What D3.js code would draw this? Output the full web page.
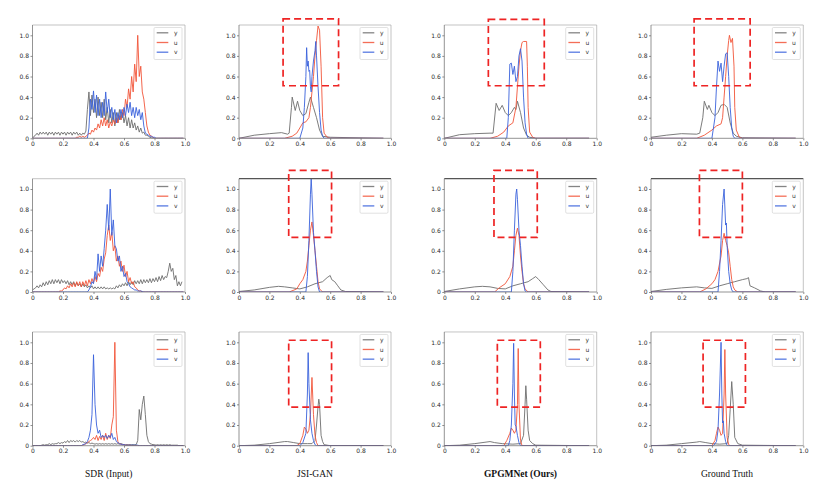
<!DOCTYPE html>
<html><head><meta charset="utf-8">
<script src="https://cdn.jsdelivr.net/npm/d3@7"></script>
<style>body{margin:0;background:#fff}svg{display:block}</style>
</head><body>
<svg id="c" width="830" height="488"></svg>
<script>
// ---------- data ----------
const xTicks = [0, 0.2, 0.4, 0.6, 0.8, 1.0];
const yTicks = [0, 0.2, 0.4, 0.6, 0.8, 1.0];
const captions = ["SDR (Input)", "JSI-GAN", "GPGMNet (Ours)", "Ground Truth"];
const seriesNames = ["y", "u", "v"];

// SDR input histograms: values on a 0.01 bin grid starting at 0
const sdr1_y = [0,0.02,0.03,0.05,0.03,0.06,0.04,0.06,0.04,0.06,0.03,0.06,0.04,0.06,0.03,0.06,0.04,0.06,0.03,0.06,0.04,0.06,0.03,0.06,0.04,0.06,0.03,0.06,0.04,0.06,0.03,0.05,0.03,0.05,0.04,0.07,0.28,0.45,0.22,0.42,0.25,0.38,0.2,0.4,0.22,0.35,0.2,0.38,0.18,0.3,0.15,0.28,0.15,0.25,0.12,0.25,0.15,0.28,0.18,0.25,0.15,0.22,0.12,0.2,0.1,0.18,0.1,0.15,0.08,0.12,0.06,0.1,0.05,0.06,0.03,0.03,0.02,0.01,0.005,0,0,0,0,0,0,0,0,0,0,0,0,0,0,0,0,0,0,0,0,0];
const sdr1_u = [0,0,0,0,0,0,0,0,0,0,0,0,0,0,0,0,0,0,0,0,0,0,0,0,0,0,0,0,0,0.01,0.01,0.02,0.01,0.02,0.01,0.02,0.03,0.05,0.04,0.08,0.06,0.1,0.08,0.14,0.1,0.18,0.12,0.2,0.12,0.18,0.1,0.16,0.12,0.18,0.14,0.2,0.15,0.22,0.18,0.28,0.22,0.38,0.3,0.48,0.38,0.6,0.45,0.72,0.55,1.0,0.6,0.7,0.45,0.38,0.25,0.12,0.06,0.03,0.02,0.01,0,0,0,0,0,0,0,0,0,0,0,0,0,0,0,0,0,0,0,0];
const sdr1_v = [0,0,0,0,0,0,0,0,0,0,0,0,0,0,0,0,0,0,0,0,0,0,0,0,0,0,0,0,0,0,0,0,0,0,0,0,0,0.1,0.38,0.28,0.46,0.25,0.42,0.22,0.38,0.2,0.35,0.22,0.45,0.25,0.38,0.2,0.3,0.18,0.28,0.15,0.25,0.18,0.28,0.2,0.3,0.22,0.33,0.25,0.35,0.22,0.3,0.2,0.3,0.22,0.28,0.18,0.25,0.12,0.05,0.04,0.03,0.02,0.02,0.01,0.01,0,0,0,0,0,0,0,0,0,0,0,0,0,0,0,0,0,0,0];

const sdr2_y = [0.02,0.03,0.04,0.06,0.04,0.07,0.05,0.09,0.06,0.1,0.07,0.11,0.08,0.12,0.08,0.12,0.09,0.12,0.08,0.12,0.09,0.11,0.08,0.11,0.07,0.1,0.07,0.1,0.06,0.09,0.06,0.08,0.05,0.08,0.05,0.07,0.04,0.06,0.04,0.06,0.03,0.05,0.03,0.05,0.03,0.05,0.03,0.05,0.03,0.04,0.03,0.04,0.03,0.04,0.03,0.06,0.04,0.07,0.05,0.08,0.06,0.09,0.06,0.1,0.07,0.1,0.07,0.11,0.08,0.11,0.08,0.12,0.08,0.12,0.09,0.12,0.09,0.13,0.09,0.13,0.1,0.14,0.1,0.15,0.11,0.16,0.12,0.15,0.14,0.2,0.28,0.2,0.23,0.12,0.16,0.06,0.1,0.06,0.1];
const sdr2_u = [0,0,0,0,0,0,0,0,0,0,0,0,0,0,0,0,0,0,0.01,0.01,0.02,0.04,0.03,0.06,0.04,0.08,0.05,0.09,0.05,0.1,0.06,0.1,0.05,0.1,0.06,0.11,0.06,0.12,0.08,0.13,0.09,0.15,0.1,0.18,0.15,0.24,0.2,0.32,0.38,0.55,0.65,0.5,0.58,0.4,0.45,0.3,0.35,0.25,0.3,0.2,0.26,0.15,0.2,0.1,0.14,0.08,0.1,0.05,0.04,0.02,0.01,0.01,0,0,0,0,0,0,0,0,0,0,0,0,0,0,0,0,0,0,0,0,0,0,0,0,0,0,0,0];
const sdr2_v = [0,0,0,0,0,0,0,0,0,0,0,0,0,0,0,0,0,0,0,0,0,0,0,0,0,0,0,0,0,0,0,0,0,0,0,0,0,0.02,0.05,0.1,0.08,0.2,0.12,0.37,0.2,0.35,0.25,0.42,0.6,0.85,0.6,1.0,0.55,0.7,0.45,0.42,0.3,0.35,0.2,0.25,0.15,0.18,0.1,0.08,0.05,0.04,0.03,0.02,0.02,0.01,0.01,0.01,0.005,0,0,0,0,0,0,0,0,0,0,0,0,0,0,0,0,0,0,0,0,0,0,0,0,0,0,0];

const sdr3_y = [0,0,0,0,0,0,0.005,0.01,0.005,0.01,0.01,0.02,0.01,0.02,0.015,0.02,0.02,0.03,0.02,0.03,0.025,0.04,0.03,0.05,0.03,0.05,0.04,0.05,0.035,0.05,0.04,0.05,0.035,0.04,0.03,0.035,0.025,0.03,0.02,0.025,0.02,0.015,0.02,0.015,0.02,0.015,0.02,0.015,0.02,0.015,0.02,0.015,0.02,0.015,0.02,0.015,0.02,0.015,0.02,0.015,0.01,0.01,0.01,0.01,0.01,0.01,0.01,0.01,0.01,0.05,0.35,0.25,0.4,0.48,0.3,0.1,0.04,0.02,0.015,0.01,0.01,0.005,0.01,0.005,0.01,0.005,0.01,0.005,0.01,0.005,0.01,0.005,0.005,0.005,0.005,0.005,0,0,0,0];
const sdr3_u = [0,0,0,0,0,0,0,0,0,0,0,0,0,0,0,0,0,0,0,0,0,0,0,0,0,0,0,0,0,0,0,0,0,0.005,0.01,0.02,0.03,0.04,0.05,0.06,0.08,0.06,0.1,0.05,0.09,0.06,0.1,0.05,0.12,0.06,0.1,0.07,0.2,0.28,1.0,0.15,0.04,0.02,0.015,0.01,0.01,0.005,0.005,0.005,0.005,0,0,0,0,0,0,0,0,0,0,0,0,0,0,0,0,0,0,0,0,0,0,0,0,0,0,0,0,0,0,0,0,0,0,0];
const sdr3_v = [0,0,0,0,0,0,0,0,0,0,0,0,0,0,0,0,0,0,0,0,0,0,0,0,0,0,0,0,0,0,0,0,0,0.01,0.015,0.02,0.04,0.08,0.15,0.3,0.88,0.4,0.2,0.12,0.15,0.08,0.1,0.08,0.1,0.07,0.1,0.08,0.12,0.06,0.08,0.04,0.03,0.02,0.015,0.01,0.01,0.005,0.005,0.005,0.005,0.005,0.005,0.005,0.005,0.005,0,0,0,0,0,0,0,0,0,0,0,0,0,0,0,0,0,0,0,0,0,0,0,0,0,0,0,0,0,0];

// Model outputs: [value, density] pairs
const jsi1_y = [[0,0],[0.1,0.03],[0.2,0.045],[0.28,0.055],[0.32,0.04],[0.33,0.05],[0.345,0.3],[0.35,0.4],[0.37,0.27],[0.385,0.36],[0.4,0.27],[0.42,0.22],[0.44,0.24],[0.46,0.35],[0.47,0.4],[0.49,0.3],[0.51,0.2],[0.53,0.08],[0.55,0.02],[0.6,0.01],[0.95,0]];
const jsi1_u = [[0,0],[0.3,0],[0.35,0.02],[0.38,0.05],[0.4,0.1],[0.42,0.15],[0.44,0.16],[0.46,0.2],[0.47,0.3],[0.48,0.45],[0.49,0.6],[0.5,0.8],[0.51,0.95],[0.52,1.09],[0.53,1.05],[0.54,0.7],[0.55,0.2],[0.56,0.05],[0.58,0.01],[0.6,0],[0.95,0]];
const jsi1_v = [[0,0],[0.4,0],[0.42,0.1],[0.43,0.3],[0.44,0.6],[0.445,0.88],[0.45,0.7],[0.455,0.75],[0.46,0.65],[0.465,0.66],[0.47,0.5],[0.475,0.45],[0.48,0.6],[0.49,0.75],[0.5,0.85],[0.505,0.94],[0.51,0.8],[0.52,0.5],[0.53,0.25],[0.54,0.08],[0.55,0.02],[0.56,0],[0.95,0]];

const gpgm1_y = [[0,0],[0.1,0.035],[0.2,0.045],[0.3,0.05],[0.32,0.05],[0.34,0.34],[0.36,0.27],[0.38,0.32],[0.4,0.25],[0.42,0.22],[0.44,0.25],[0.46,0.3],[0.47,0.28],[0.48,0.36],[0.5,0.25],[0.52,0.1],[0.54,0.03],[0.56,0.01],[0.6,0],[0.95,0]];
const gpgm1_u = [[0,0],[0.3,0],[0.35,0.02],[0.39,0.06],[0.42,0.12],[0.45,0.15],[0.47,0.3],[0.48,0.5],[0.49,0.7],[0.5,0.85],[0.51,0.93],[0.52,0.94],[0.54,0.94],[0.545,0.7],[0.55,0.3],[0.56,0.06],[0.58,0.01],[0.6,0],[0.95,0]];
const gpgm1_v = [[0,0],[0.41,0],[0.42,0.2],[0.43,0.72],[0.44,0.73],[0.45,0.62],[0.46,0.7],[0.47,0.55],[0.48,0.6],[0.49,0.8],[0.5,0.87],[0.51,0.75],[0.52,0.4],[0.53,0.15],[0.54,0.04],[0.55,0],[0.95,0]];

const gt1_y = [[0,0.01],[0.1,0.03],[0.2,0.045],[0.3,0.04],[0.32,0.05],[0.34,0.2],[0.35,0.36],[0.37,0.28],[0.38,0.32],[0.4,0.25],[0.42,0.22],[0.44,0.25],[0.46,0.32],[0.48,0.33],[0.5,0.3],[0.52,0.15],[0.54,0.05],[0.56,0.02],[0.6,0.005],[0.95,0]];
const gt1_u = [[0,0],[0.3,0],[0.35,0.03],[0.4,0.08],[0.43,0.12],[0.46,0.14],[0.47,0.2],[0.48,0.4],[0.49,0.6],[0.5,0.8],[0.51,0.95],[0.515,1.0],[0.525,0.93],[0.535,0.97],[0.545,0.7],[0.55,0.3],[0.56,0.08],[0.58,0.01],[0.6,0],[0.95,0]];
const gt1_v = [[0,0],[0.4,0],[0.42,0.2],[0.43,0.5],[0.44,0.75],[0.45,0.65],[0.46,0.73],[0.47,0.55],[0.48,0.7],[0.49,0.82],[0.5,0.83],[0.51,0.6],[0.52,0.3],[0.53,0.1],[0.54,0.02],[0.55,0],[0.95,0]];

const jsi2_y = [[0,0.005],[0.1,0.02],[0.2,0.045],[0.26,0.055],[0.3,0.05],[0.35,0.04],[0.4,0.03],[0.45,0.05],[0.5,0.08],[0.55,0.1],[0.58,0.14],[0.6,0.16],[0.61,0.12],[0.63,0.1],[0.65,0.06],[0.67,0.02],[0.7,0.005],[0.95,0]];
const jsi2_u = [[0,0],[0.33,0],[0.38,0.03],[0.4,0.08],[0.42,0.12],[0.44,0.2],[0.45,0.3],[0.46,0.45],[0.47,0.6],[0.48,0.68],[0.49,0.55],[0.5,0.4],[0.51,0.25],[0.52,0.1],[0.53,0.03],[0.55,0],[0.95,0]];
const jsi2_v = [[0,0],[0.44,0],[0.45,0.15],[0.46,0.5],[0.47,0.95],[0.475,1.1],[0.48,0.95],[0.49,0.58],[0.5,0.4],[0.51,0.2],[0.52,0.05],[0.53,0],[0.95,0]];

const gpgm2_y = [[0,0.005],[0.1,0.03],[0.2,0.05],[0.25,0.055],[0.3,0.05],[0.35,0.035],[0.4,0.03],[0.45,0.06],[0.5,0.08],[0.55,0.1],[0.58,0.13],[0.6,0.15],[0.62,0.12],[0.65,0.07],[0.68,0.02],[0.7,0.005],[0.95,0]];
const gpgm2_u = [[0,0],[0.33,0],[0.36,0.04],[0.4,0.08],[0.43,0.15],[0.45,0.25],[0.46,0.4],[0.47,0.55],[0.48,0.62],[0.49,0.55],[0.5,0.35],[0.51,0.2],[0.52,0.08],[0.53,0.03],[0.55,0],[0.95,0]];
const gpgm2_v = [[0,0],[0.44,0],[0.45,0.2],[0.46,0.6],[0.47,0.95],[0.475,1.0],[0.48,0.9],[0.49,0.6],[0.5,0.45],[0.51,0.25],[0.52,0.08],[0.53,0.01],[0.54,0],[0.95,0]];

const gt2_y = [[0,0.005],[0.1,0.025],[0.2,0.04],[0.3,0.05],[0.35,0.04],[0.4,0.035],[0.45,0.06],[0.5,0.08],[0.55,0.1],[0.6,0.12],[0.63,0.13],[0.64,0.14],[0.65,0.06],[0.68,0.04],[0.72,0.01],[0.75,0],[0.95,0]];
const gt2_u = [[0,0],[0.32,0],[0.36,0.03],[0.4,0.08],[0.42,0.12],[0.44,0.2],[0.46,0.35],[0.47,0.5],[0.48,0.57],[0.49,0.5],[0.5,0.45],[0.51,0.38],[0.52,0.25],[0.53,0.12],[0.54,0.05],[0.55,0.02],[0.57,0],[0.95,0]];
const gt2_v = [[0,0],[0.44,0],[0.45,0.2],[0.46,0.5],[0.47,0.85],[0.48,1.0],[0.49,0.65],[0.495,0.67],[0.5,0.45],[0.51,0.2],[0.52,0.08],[0.53,0.02],[0.54,0],[0.95,0]];

const jsi3_y = [[0,0],[0.1,0.005],[0.2,0.02],[0.3,0.04],[0.32,0.04],[0.36,0.03],[0.4,0.02],[0.45,0.02],[0.48,0.02],[0.5,0.05],[0.51,0.2],[0.52,0.38],[0.525,0.45],[0.53,0.4],[0.54,0.1],[0.55,0.04],[0.56,0.01],[0.6,0],[0.95,0]];
const jsi3_u = [[0,0],[0.38,0],[0.4,0.02],[0.42,0.1],[0.43,0.18],[0.44,0.16],[0.45,0.12],[0.46,0.15],[0.47,0.3],[0.48,0.66],[0.49,0.3],[0.5,0.1],[0.51,0.03],[0.52,0],[0.95,0]];
const jsi3_v = [[0,0],[0.4,0],[0.42,0.03],[0.44,0.12],[0.45,0.5],[0.455,0.9],[0.46,0.6],[0.47,0.25],[0.48,0.12],[0.49,0.05],[0.5,0.01],[0.51,0],[0.95,0]];

const gpgm3_y = [[0,0],[0.1,0.005],[0.2,0.02],[0.3,0.04],[0.33,0.03],[0.38,0.02],[0.45,0.015],[0.5,0.02],[0.52,0.1],[0.53,0.4],[0.535,0.58],[0.54,0.45],[0.55,0.15],[0.56,0.05],[0.58,0.02],[0.6,0.005],[0.95,0]];
const gpgm3_u = [[0,0],[0.39,0],[0.41,0.05],[0.43,0.12],[0.44,0.17],[0.45,0.15],[0.46,0.12],[0.47,0.15],[0.48,0.4],[0.485,0.94],[0.49,0.4],[0.5,0.05],[0.51,0],[0.95,0]];
const gpgm3_v = [[0,0],[0.42,0],[0.43,0.05],[0.44,0.2],[0.45,0.6],[0.455,0.99],[0.46,0.5],[0.465,0.2],[0.47,0.19],[0.48,0.1],[0.49,0.03],[0.5,0],[0.95,0]];

const gt3_y = [[0,0],[0.1,0.005],[0.2,0.02],[0.3,0.035],[0.32,0.04],[0.36,0.03],[0.4,0.02],[0.45,0.015],[0.5,0.02],[0.51,0.1],[0.52,0.35],[0.53,0.62],[0.54,0.4],[0.55,0.08],[0.57,0.02],[0.6,0.005],[0.95,0]];
const gt3_u = [[0,0],[0.4,0],[0.42,0.05],[0.43,0.12],[0.44,0.18],[0.45,0.15],[0.46,0.1],[0.47,0.12],[0.48,0.5],[0.485,0.93],[0.49,0.5],[0.5,0.08],[0.51,0.01],[0.52,0],[0.95,0]];
const gt3_v = [[0,0],[0.41,0],[0.43,0.04],[0.44,0.15],[0.45,0.5],[0.46,1.0],[0.465,0.5],[0.47,0.22],[0.475,0.24],[0.48,0.12],[0.49,0.04],[0.5,0],[0.95,0]];

// highlight boxes (data coords: x0, x1, y0, y1); null = none
const zoomBoxes = [
  [null, [0.29,0.655,0.51,1.16], [0.289,0.656,0.51,1.155], [0.283,0.651,0.51,1.16]],
  [null, [0.327,0.609,0.53,1.18], [0.326,0.61,0.53,1.18], [0.318,0.6,0.53,1.18]],
  [null, [0.327,0.609,0.374,1.02], [0.348,0.63,0.374,1.02], [0.342,0.62,0.374,1.02]]
];

// ---------- layout / style ----------
const colLeft = [32.5, 239, 444.3, 651];
const colRight = [185, 391, 596.7, 803.3];
const rowZero = [138.3, 292, 445.7];
const rowOne = [35.3, 189, 342.3];
const captionX = [108.7, 315, 520.5, 727];
const colors = {y: "#6e6e6e", u: "#f2553a", v: "#3a62dc"};

const binGrid = d3.range(100).map(i => i / 100);
const toPairs = vals => vals.map((v, i) => [binGrid[i], v]);

const panels = [
  [[toPairs(sdr1_y), toPairs(sdr1_u), toPairs(sdr1_v)], [jsi1_y, jsi1_u, jsi1_v], [gpgm1_y, gpgm1_u, gpgm1_v], [gt1_y, gt1_u, gt1_v]],
  [[toPairs(sdr2_y), toPairs(sdr2_u), toPairs(sdr2_v)], [jsi2_y, jsi2_u, jsi2_v], [gpgm2_y, gpgm2_u, gpgm2_v], [gt2_y, gt2_u, gt2_v]],
  [[toPairs(sdr3_y), toPairs(sdr3_u), toPairs(sdr3_v)], [jsi3_y, jsi3_u, jsi3_v], [gpgm3_y, gpgm3_u, gpgm3_v], [gt3_y, gt3_u, gt3_v]]
];

const svg = d3.select("#c");
const defs = svg.append("defs");
const fmt = d => d === 0 ? "0" : d3.format(".1f")(d);

panels.forEach((row, r) => {
  row.forEach((series, c) => {
    const x = d3.scaleLinear().domain([0, 1]).range([colLeft[c], colRight[c]]);
    const y = d3.scaleLinear().domain([0, 1]).range([rowZero[r], rowOne[r]]);
    const top = y(1.1), bottom = y(0), left = x(0), right = x(1);
    const g = svg.append("g");
    const cid = `clip${r}${c}`;
    defs.append("clipPath").attr("id", cid).append("rect")
      .attr("x", left).attr("y", top).attr("width", right - left).attr("height", bottom - top);

    // axes
    const ax = g.append("g").attr("transform", `translate(0,${bottom})`)
      .call(d3.axisBottom(x).tickValues(xTicks).tickFormat(fmt).tickSize(2).tickPadding(1.5));
    const ay = g.append("g").attr("transform", `translate(${left},0)`)
      .call(d3.axisLeft(y).tickValues(yTicks).tickFormat(fmt).tickSize(2).tickPadding(1.5));
    [ax, ay].forEach(a => {
      a.select(".domain").remove();
      a.selectAll("line").attr("stroke", "#444").attr("stroke-width", 0.6);
      a.selectAll("text").attr("fill", "#2a2a2a").style("font-family", "DejaVu Sans").style("font-size", "6px");
    });

    // lines
    const line = d3.line().x(d => x(d[0])).y(d => y(d[1]));
    const lg = g.append("g").attr("clip-path", `url(#${cid})`);
    series.forEach((s, k) => {
      lg.append("path").datum(s).attr("d", line)
        .attr("fill", "none").attr("stroke", colors[seriesNames[k]])
        .attr("stroke-width", 1).attr("stroke-opacity", 0.9).attr("stroke-linejoin", "round");
    });

    // spines
    const topDark = (r === 1 && c > 0);
    g.append("line").attr("x1", left).attr("x2", right).attr("y1", top).attr("y2", top)
      .attr("stroke", topDark ? "#555" : "#aaa").attr("stroke-width", topDark ? 1.3 : 0.7);
    g.append("line").attr("x1", right).attr("x2", right).attr("y1", top).attr("y2", bottom)
      .attr("stroke", "#aaa").attr("stroke-width", 0.7);
    g.append("line").attr("x1", left).attr("x2", left).attr("y1", top).attr("y2", bottom)
      .attr("stroke", "#666").attr("stroke-width", 0.7);
    g.append("line").attr("x1", left).attr("x2", right).attr("y1", bottom).attr("y2", bottom)
      .attr("stroke", "#666").attr("stroke-width", 0.7);

    // legend
    const lx = right - 31, ly = top + 2.5;
    const leg = g.append("g").attr("transform", `translate(${lx},${ly})`);
    leg.append("rect").attr("width", 28).attr("height", 32).attr("rx", 1.2)
      .attr("fill", "#fff").attr("fill-opacity", 0.85).attr("stroke", "#ccc").attr("stroke-width", 0.6);
    seriesNames.forEach((n, k) => {
      const yy = 5.3 + k * 9.7;
      leg.append("line").attr("x1", 2.7).attr("x2", 14.3).attr("y1", yy).attr("y2", yy)
        .attr("stroke", colors[n]).attr("stroke-width", 1.3).attr("stroke-opacity", 0.85);
      leg.append("text").attr("x", 21.7).attr("y", yy).attr("dy", "0.35em")
        .attr("text-anchor", "middle").attr("fill", "#333")
        .style("font-family", "DejaVu Sans").style("font-size", "6px").text(n);
    });

    // highlight box
    const b = zoomBoxes[r][c];
    if (b) {
      g.append("rect").attr("x", x(b[0])).attr("y", y(b[3]))
        .attr("width", x(b[1]) - x(b[0])).attr("height", y(b[2]) - y(b[3]))
        .attr("fill", "none").attr("stroke", "#ee2424").attr("stroke-width", 1.7)
        .attr("stroke-dasharray", "7,4");
    }
  });
});

// captions
captions.forEach((t, c) => {
  svg.append("text").attr("x", captionX[c]).attr("y", 477).attr("text-anchor", "middle")
    .style("font-family", "Liberation Serif").style("font-size", "9.5px")
    .style("font-weight", c === 2 ? "bold" : "normal").attr("fill", "#111").text(t);
});
</script>
</body></html>
